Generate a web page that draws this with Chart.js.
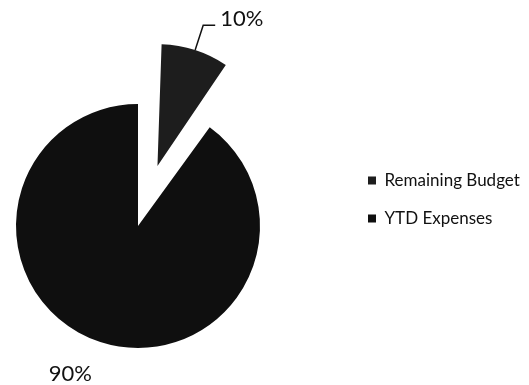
<!DOCTYPE html>
<html>
<head>
<meta charset="utf-8">
<title>Budget</title>
<script src="https://cdn.jsdelivr.net/npm/chart.js@4.4.1/dist/chart.umd.min.js"></script>
<style>
    html, body { margin: 0; padding: 0; background: #fff; overflow: hidden; }
    #wrap { position: relative; width: 529px; height: 385px; overflow: hidden; }
    #budgetPie { position: absolute; left: -71px; top: 0; }
</style>
</head>
<body>
<div id="wrap"><canvas id="budgetPie"></canvas></div>
<script>
const categories = ['Remaining Budget', 'YTD Expenses'];
const shares = [10, 90];

const RADIUS = 122;
const EXPLODE = 252;      // chart.js moves an offset arc by offset / 4
const LEGEND_LEFT = 418;  // legend box left edge, in canvas pixels
const LEGEND_PAD = 21;
const BOX = 8;
const LEGEND_FONT = { family: 'Lato', size: 17 };

// canvas is wider than the page and pushed left, so the pie sits left of the legend gap
const canvas = document.getElementById('budgetPie');
const measure = document.createElement('canvas').getContext('2d');
measure.font = LEGEND_FONT.size + 'px ' + LEGEND_FONT.family;
const textW = Math.max(...categories.map(c => measure.measureText(c).width));
const legendW = LEGEND_PAD + BOX + LEGEND_FONT.size / 2 + textW + 10;
const canvasW = Math.ceil(LEGEND_LEFT + legendW);
canvas.width = canvasW;
canvas.height = 385;

const sliceLabels = {
    id: 'sliceLabels',
    afterDatasetsUpdate(chart) {
        // an offset arc is also drawn bigger, pull it back to the pie radius
        chart.getDatasetMeta(0).data.forEach(arc => {
            const off = (arc.options.offset || 0) / 4;
            if (off) {
                arc.outerRadius = RADIUS - off * (1 - Math.sin(Math.min(Math.PI, arc.circumference)));
            }
        });
    },
    afterDatasetsDraw(chart) {
        const ctx = chart.ctx;
        const meta = chart.getDatasetMeta(0);
        const total = shares.reduce((a, b) => a + b, 0);
        ctx.save();
        ctx.font = '22px Lato';
        ctx.fillStyle = '#111';
        ctx.strokeStyle = '#111';
        ctx.lineWidth = 1.5;
        ctx.textBaseline = 'alphabetic';
        meta.data.forEach((arc, i) => {
            const text = Math.round(shares[i] / total * 100) + '%';
            const mid = (arc.startAngle + arc.endAngle) / 2;
            const off = (arc.options.offset || 0) / 4;
            const cx = arc.x + Math.cos(mid) * off;
            const cy = arc.y + Math.sin(mid) * off;
            const at = r => [cx + Math.cos(mid) * r, cy + Math.sin(mid) * r];
            if (off) {
                const [x0, y0] = at(RADIUS);
                const [x1, y1] = at(RADIUS + 26);
                ctx.beginPath();
                ctx.moveTo(x0, y0);
                ctx.lineTo(x1, y1);
                ctx.lineTo(x1 + 12, y1);
                ctx.stroke();
                ctx.textAlign = 'left';
                ctx.fillText(text, x1 + 17, y1 + 1);
            } else {
                const [x, y] = at(RADIUS + 27);
                ctx.textAlign = 'right';
                ctx.fillText(text, x, y + 13);
            }
        });
        ctx.restore();
    }
};

new Chart(canvas.getContext('2d'), {
    type: 'pie',
    data: {
        labels: categories,
        datasets: [{
            data: shares,
            backgroundColor: ['#1d1d1d', '#0f0f0f'],
            borderWidth: 0,
            offset: [EXPLODE, 0],
            radius: RADIUS
        }]
    },
    options: {
        responsive: false,
        animation: false,
        events: [],
        devicePixelRatio: 1,
        layout: {
            padding: { top: 67, bottom: 0, left: 0, right: canvasW - LEGEND_LEFT - legendW }
        },
        plugins: {
            tooltip: { enabled: false },
            legend: {
                position: 'right',
                align: 'start',
                title: { display: true, text: '', font: { size: 10 }, padding: { top: 72, bottom: 0 } },
                labels: {
                    color: '#111',
                    font: LEGEND_FONT,
                    boxWidth: BOX,
                    boxHeight: BOX,
                    padding: LEGEND_PAD
                }
            }
        }
    },
    plugins: [sliceLabels]
});
</script>
</body>
</html>
